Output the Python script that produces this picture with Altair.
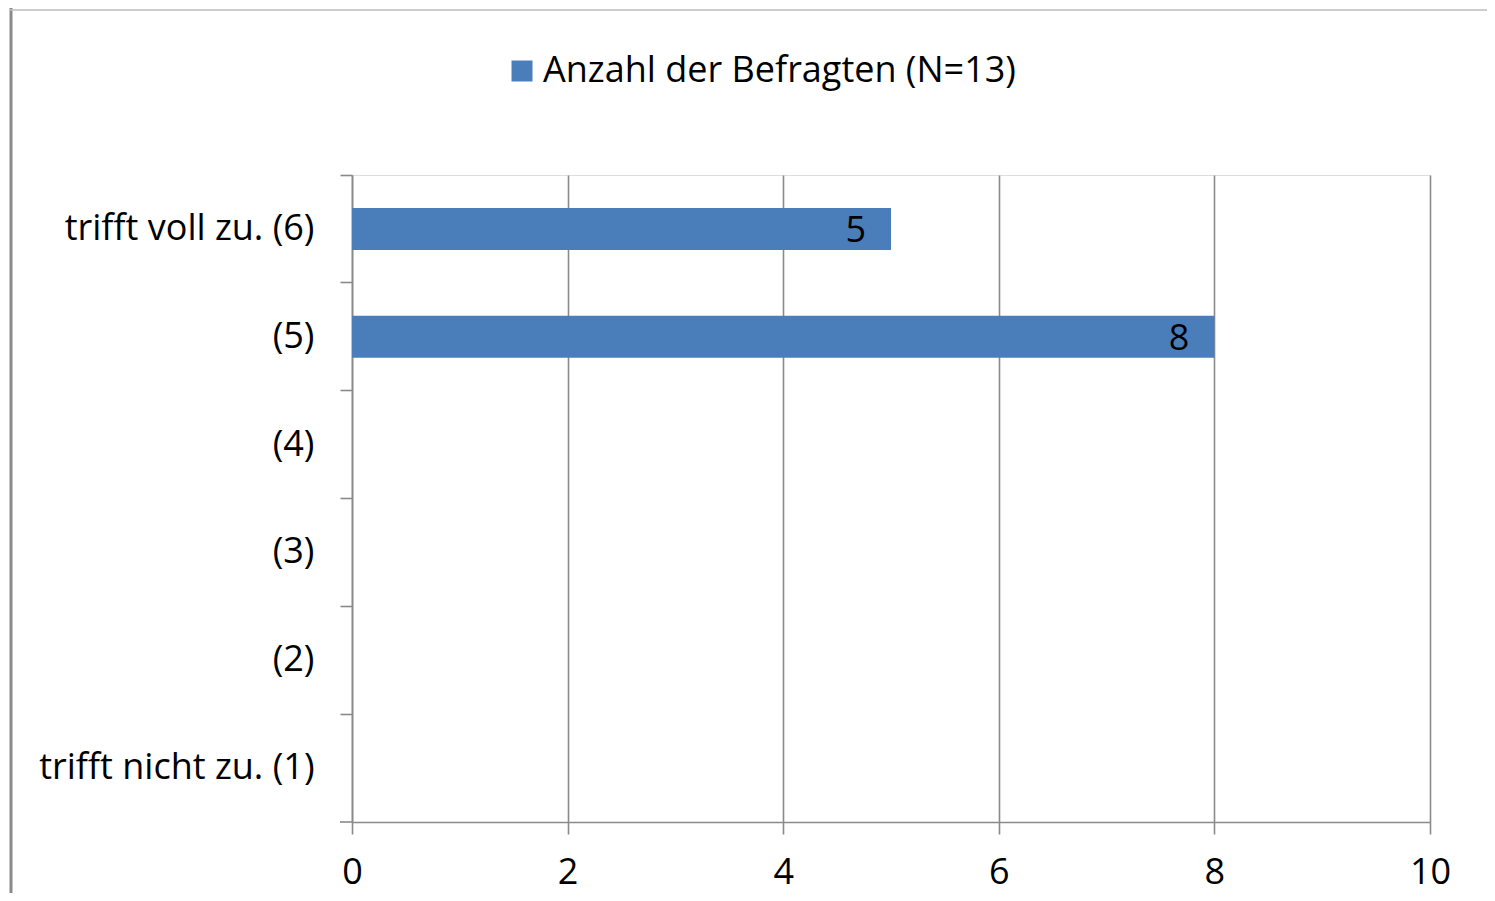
import altair as alt
import pandas as pd

categories = ["trifft voll zu. (6)", "(5)", "(4)", "(3)", "(2)", "trifft nicht zu. (1)"]
values = [5, 8, 0, 0, 0, 0]
series_name = "Anzahl der Befragten (N=13)"
x_ticks = [0, 2, 4, 6, 8, 10]

df = pd.DataFrame({"cat": categories, "val": values, "series": [series_name] * len(categories)})

W, H = 1078, 647
FONT = "Open Sans"
FS = 36
GRAY = "#8a8a8a"
BLUE = "#4a7ebb"

y = alt.Y(
    "cat:N", sort=categories, title=None,
    scale=alt.Scale(paddingInner=0, paddingOuter=0),
    axis=alt.Axis(bandPosition=0, domainColor=GRAY, domainWidth=1.6, tickColor=GRAY, tickWidth=1.6,
                  tickSize=12, labelFontSize=FS, labelFont=FONT, labelColor="#000",
                  labelPadding=26, labelLimit=0, grid=False),
)
x = alt.X(
    "val:Q", title=None, scale=alt.Scale(domain=[0, 10], nice=False),
    axis=alt.Axis(values=x_ticks, format="d", grid=True, gridColor=GRAY, gridWidth=1.6,
                  domainColor=GRAY, domainWidth=1.6, tickColor=GRAY, tickWidth=1.6, tickSize=12,
                  labelFontSize=FS, labelFont=FONT, labelColor="#000", labelPadding=21,
                  labelFlush=False),
)

bars = alt.Chart(df).mark_bar(size=42).encode(
    x=x, y=y,
    color=alt.Color("series:N", scale=alt.Scale(range=[BLUE]),
                    legend=alt.Legend(title=None, orient="none", legendX=152, legendY=-122,
                                      symbolType="square", symbolSize=441, symbolStrokeWidth=0,
                                      labelFontSize=FS, labelFont=FONT, labelColor="#000",
                                      labelOffset=3, labelLimit=0)),
)

labels = alt.Chart(df).transform_filter("datum.val > 0").mark_text(
    align="right", baseline="middle", dx=-25, dy=2, fontSize=FS, font=FONT, color="#000"
).encode(x="val:Q", y=alt.Y("cat:N", sort=categories), text="val:Q")

one = pd.DataFrame({"a": [0]})
bottom_tick = alt.Chart(one).mark_rule(color=GRAY, strokeWidth=1.6).encode(
    x=alt.value(-12), x2=alt.value(0), y=alt.value(H))
left_border = alt.Chart(one).mark_rule(color=GRAY, strokeWidth=3).encode(
    x=alt.value(-341), y=alt.value(-167), y2=alt.value(H + 71))
top_border = alt.Chart(one).mark_rule(color="#bdbdbd", strokeWidth=1.5).encode(
    x=alt.value(-342), x2=alt.value(W + 57), y=alt.value(-165))

chart = alt.layer(bars, labels, bottom_tick, left_border, top_border).properties(
    width=W, height=H,
    autosize=alt.AutoSizeParams(type="none"),
    padding={"left": 344, "top": 167, "right": 57, "bottom": 71},
).configure_view(stroke=None).configure(background="white")

chart.save("out.html", embed_options={"renderer": "svg", "actions": False})
